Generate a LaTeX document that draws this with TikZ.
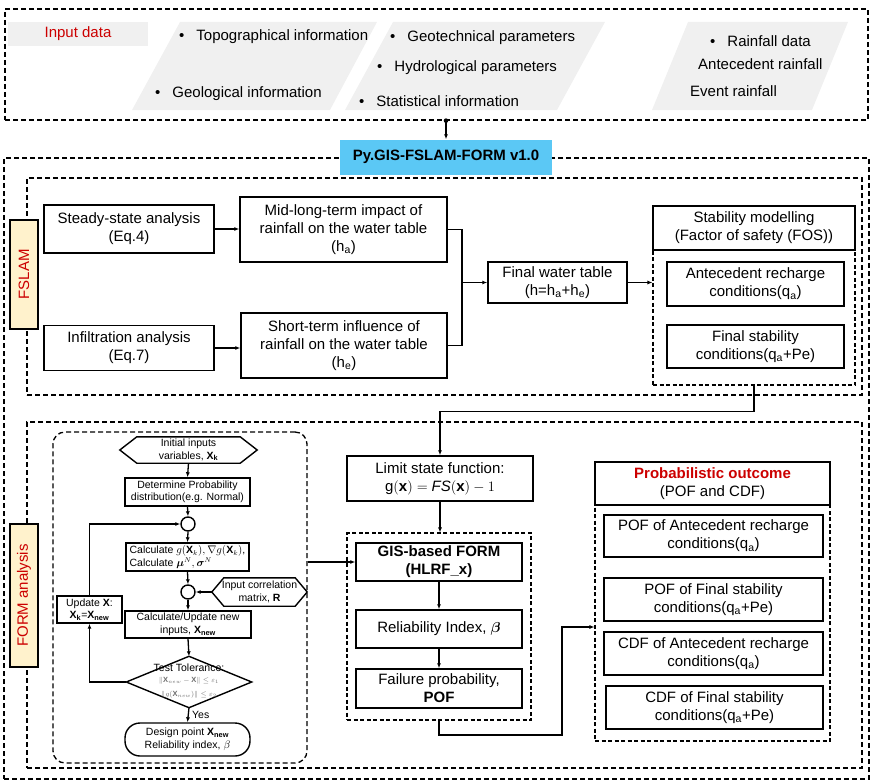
\documentclass[tikz,border=0pt]{standalone}
\usepackage{amsmath}
\usepackage{fontspec}
\setmainfont{Liberation Sans}
\usetikzlibrary{arrows.meta,calc}
\definecolor{pyblue}{RGB}{91,200,245}
\definecolor{labyel}{RGB}{255,242,204}
\definecolor{redtxt}{RGB}{204,0,0}
\definecolor{pgrey}{RGB}{240,240,240}
\definecolor{mathgrey}{RGB}{110,110,110}
\newcommand{\bul}{\textbullet\hspace{12pt}}
\begin{document}
\begin{tikzpicture}[x=1pt,y=-1pt,
  txt/.style={font=\fontsize{15}{18}\selectfont},
  box/.style={draw=black, line width=1.5pt, fill=white, align=center, inner sep=0pt, txt},
  fcbox/.style={draw=black, line width=1.4pt, fill=white, align=center, inner sep=0pt, font=\fontsize{10.5}{12.5}\selectfont},
  fcshape/.style={align=center, inner sep=0pt, font=\fontsize{10.5}{12.5}\selectfont},
  fcline/.style={draw=black, line width=1.4pt, fill=white},
  dashbox/.style={draw=black, line width=1.3pt, dash pattern=on 5pt off 3pt},
  thindash/.style={draw=black, line width=1.1pt, dash pattern=on 4pt off 2.5pt},
  itm/.style={anchor=west, inner sep=0pt, txt},
  lab/.style={draw=black, line width=1.4pt, fill=labyel, text=redtxt, rotate=90, inner sep=0pt, minimum height=28, txt},
  arr/.style={line width=1.3pt, -{Latex[length=5pt,width=4pt]}},
  ln/.style={line width=1.3pt}
]
\useasboundingbox (0,0) rectangle (873,784);

% ---------------- input data band ----------------
\node[dashbox, minimum width=863, minimum height=111, inner sep=0pt] (inbox) at (436.5,64.5) {};
\fill[pgrey] (180,22) -- (377,22) -- (330,110) -- (132,110) -- cycle;
\fill[pgrey] (393,22) -- (605,22) -- (557,110) -- (345,110) -- cycle;
\fill[pgrey] (688,22) -- (848,22) -- (812,110) -- (652,110) -- cycle;
\node[fill=pgrey, minimum width=140, minimum height=24, inner sep=0pt, text=redtxt, txt] (inlab) at (78,34) {Input data};

\node[itm] (topo) at (179,37) {\bul Topographical information};
\node[itm] (geol) at (155,94) {\bul Geological information};
\node[itm] (geot) at (390,38) {\bul Geotechnical parameters};
\node[itm] (hydr) at (377,68) {\bul Hydrological parameters};
\node[itm] (stat) at (359,101) {\bul Statistical information};
\node[itm] (rain) at (710,41) {\bul Rainfall data};
\node[itm] (ante) at (698,64) {Antecedent rainfall};
\node[itm] (even) at (690,91) {Event rainfall};

% ---------------- outer frame ----------------
\node[dashbox, minimum width=865, minimum height=621, inner sep=0pt] (outer) at (436.5,468.5) {};
\node[fill=pyblue, minimum width=212, minimum height=35, inner sep=0pt, font=\fontsize{15}{18}\selectfont\bfseries] (py) at (446,157) {Py.GIS-FSLAM-FORM v1.0};
\coordinate (dot) at (py.north |- inbox.south);
\fill (dot) circle (2.3pt);
\draw[arr] (dot) -- (py.north);

% ---------------- FSLAM ----------------
\node[dashbox, minimum width=835, minimum height=217, inner sep=0pt] (fslam) at (444.5,286.5) {};
\node[lab, minimum width=109] (fslamlab) at (24,274.5) {FSLAM};

\node[box, minimum width=170, minimum height=48] (steady) at (129,229) {Steady-state analysis\\(Eq.4)};
\node[box, minimum width=207, minimum height=65] (midlong) at (343.5,229.5) {Mid-long-term impact of\\rainfall on the water table\\(h\textsubscript{a})};
\node[box, minimum width=170, minimum height=45] (infil) at (129,348) {Infiltration analysis\\(Eq.7)};
\node[box, minimum width=206, minimum height=65] (short) at (344,345.5) {Short-term influence of\\rainfall on the water table\\(h\textsubscript{e})};
\node[box, minimum width=139, minimum height=41] (finalwt) at (557.5,282.5) {Final water table\\(h=h\textsubscript{a}+h\textsubscript{e})};

\node[thindash, minimum width=202, minimum height=135, inner sep=0pt] (stabdash) at (754,317.5) {};
\node[box, minimum width=202, minimum height=44] (stab) at (754,228) {Stability modelling\\(Factor of safety (FOS))};
\node[box, minimum width=177, minimum height=44] (antec) at (755.5,284) {Antecedent recharge\\conditions(q\textsubscript{a})};
\node[box, minimum width=177, minimum height=43] (finstab) at (755.5,346.5) {Final stability\\conditions(q\textsubscript{a}+Pe)};

\draw[arr] (steady.east) -- (steady.east -| midlong.west);
\draw[arr] (infil.east) -- (infil.east -| short.west);
\coordinate (mj) at (462,282.5);
\draw[ln] (midlong.east) -| (mj) |- (short.east);
\draw[arr] (mj) -- (finalwt.west);
\draw[arr] (finalwt.east) -- (finalwt.east -| stabdash.west);

% ---------------- FORM ----------------
\node[dashbox, minimum width=835, minimum height=346, inner sep=0pt] (form) at (444.5,595) {};
\node[lab, minimum width=143] (formlab) at (24,595.5) {FORM analysis};

% flowchart
\node[dashbox, rounded corners=12pt, minimum width=254, minimum height=331, inner sep=0pt] (flow) at (180,597.5) {};

\node[fcshape, minimum width=137, minimum height=26] (init) at (188.5,450) {};
\draw[fcline] (init.west) -- ($(init.north west)+(17,0)$) -- ($(init.north east)+(-17,0)$) -- (init.east) -- ($(init.south east)+(-17,0)$) -- ($(init.south west)+(17,0)$) -- cycle;
\node[fcshape] at (init) {Initial inputs\\variables, \textbf{X}\textsubscript{\textbf{k}}};

\node[fcbox, minimum width=125, minimum height=28] (determ) at (187.5,492) {Determine Probability\\distribution(e.g. Normal)};
\node[fcbox, circle, minimum size=14] (c1) at (188,524) {};
\node[fcbox, minimum width=123, minimum height=28, align=left] (calc) at (187.5,557) {Calculate $g(\mathbf{X}_k),\nabla g(\mathbf{X}_k)$,\\Calculate $\boldsymbol{\mu}^N,\boldsymbol{\sigma}^N$};
\node[fcbox, circle, minimum size=14] (c2) at (188,592) {};

\node[fcshape, minimum width=95, minimum height=28] (corr) at (259.5,592) {};
\draw[fcline] (corr.west) -- ($(corr.north west)+(12,0)$) -- ($(corr.north east)+(-12,0)$) -- (corr.east) -- ($(corr.south east)+(-12,0)$) -- ($(corr.south west)+(12,0)$) -- cycle;
\node[fcshape] at (corr) {Input correlation\\matrix, \textbf{R}};

\node[fcbox, minimum width=126, minimum height=27] (updnew) at (188,624.5) {Calculate/Update new\\inputs, \textbf{X}\textsubscript{\textbf{new}}};

\node[fcshape, minimum width=125, minimum height=51] (dia) at (189,682) {};
\draw[fcline] (dia.west) -- (dia.north) -- (dia.east) -- (dia.south) -- cycle;
\node[fcshape] at (189,681) {Test Tolerance:\\[-1pt]{\color{mathgrey}\fontsize{7.5}{9}\selectfont $\|\mathbf{X}_{new}-\mathbf{X}\|\le\varepsilon_1$}\\[1pt]{\color{mathgrey}\fontsize{7.5}{9}\selectfont $\|g(\mathbf{X}_{new})\|\le\varepsilon_2$}};

\node[fcbox, rounded corners=15pt, minimum width=125, minimum height=33] (design) at (187.5,739.5) {Design point \textbf{X}\textsubscript{\textbf{new}}\\Reliability index, $\beta$};
\node[fcbox, minimum width=65, minimum height=27] (update) at (89.5,609.5) {Update \textbf{X}:\\\textbf{X}\textsubscript{\textbf{k}}=\textbf{X}\textsubscript{\textbf{new}}};

\draw[arr] (init.south) -- (determ.north);
\draw[arr] (determ.south) -- (c1.north);
\draw[arr] (c1.south) -- (calc.north);
\draw[arr] (calc.south) -- (c2.north);
\draw[arr] (c2.south) -- (updnew.north);
\draw[arr] (updnew.south) -- (dia.north);
\draw[arr] (dia.south) -- (design.north);
\node[anchor=west, inner sep=0pt, font=\fontsize{10.5}{12.5}\selectfont] (yes) at (192,715) {Yes};
\draw[arr] (corr.west) -- (c2.east);
\draw[arr] (dia.west) -| (update.south);
\draw[arr] (update.north) |- (c1.west);

% middle column
\node[box, minimum width=186, minimum height=45] (limit) at (440,478.5) {Limit state function:\\$\mathrm{g}(\mathbf{x}) = \mathit{FS}(\mathbf{x}) - 1$};
\node[thindash, minimum width=184, minimum height=187, inner sep=0pt] (midbox) at (439,626.5) {};
\node[box, minimum width=166, minimum height=38, font=\fontsize{15}{18}\selectfont\bfseries] (gis) at (439,562) {GIS-based FORM\\(HLRF\_x)};
\node[box, minimum width=166, minimum height=38] (relia) at (439,629) {Reliability Index, $\boldsymbol{\beta}$};
\node[box, minimum width=166, minimum height=39] (failp) at (439,688.5) {Failure probability,\\\textbf{POF}};

\draw[arr] (gis.west -| flow.east) -- (gis.west);
\draw[arr] (limit.south) -- (limit.south |- midbox.north);
\draw[arr] (gis.south) -- (relia.north);
\draw[arr] (relia.south) -- (failp.north);

% FSLAM -> FORM connector
\draw[arr] (stabdash.south) -- ++(0,26) -| (limit.north);

% right column
\node[thindash, minimum width=235, minimum height=236, inner sep=0pt] (probdash) at (712.5,623) {};
\node[box, minimum width=235, minimum height=43] (prob) at (712.5,483.5) {{\color{redtxt}\bfseries Probabilistic outcome}\\(POF and CDF)};
\node[box, minimum width=219, minimum height=42] (pofa) at (713.5,536) {POF of Antecedent recharge\\conditions(q\textsubscript{a})};
\node[box, minimum width=219, minimum height=43] (poff) at (713.5,599.5) {POF of Final stability\\conditions(q\textsubscript{a}+Pe)};
\node[box, minimum width=219, minimum height=43] (cdfa) at (713.5,653.5) {CDF of Antecedent recharge\\conditions(q\textsubscript{a})};
\node[box, minimum width=217, minimum height=43] (cdff) at (714.5,707.5) {CDF of Final stability\\conditions(q\textsubscript{a}+Pe)};

\coordinate (k1) at (562,735);
\coordinate (k2) at (562,627);
\draw[arr] (midbox.south) |- (k1) -- (k2) -- (k2 -| probdash.west);
\end{tikzpicture}
\end{document}
